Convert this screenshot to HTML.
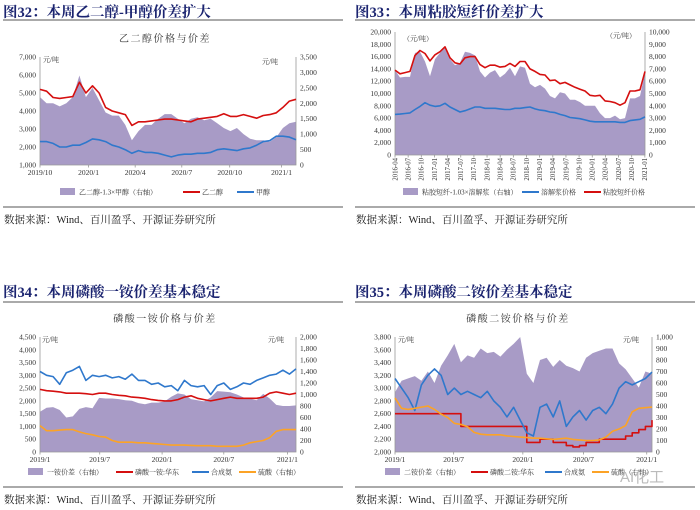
<!DOCTYPE html>
<html><head><meta charset="utf-8">
<style>
html,body{margin:0;padding:0;background:#fff;}
svg{display:block;}
.t{font-family:"Liberation Serif","Noto Serif CJK SC",serif;}
</style></head>
<body>
<svg id="root" width="700" height="510" viewBox="0 0 700 510" xmlns="http://www.w3.org/2000/svg">
<rect width="700" height="510" fill="#fff"/>
</svg>
<script>
// ===== Chart 1 data: ethylene glycol vs methanol (weekly samples, 2019/10 - 2021/1) =====
const c1Ticks = ["2019/10","2020/1","2020/4","2020/7","2020/10","2021/1"];
const c1TickIdx = [0, 7.4, 14.5, 21.6, 28.9, 36.8];
const c1Red = [5200,5100,4750,4700,4750,4800,5600,5000,5400,5000,4200,4000,3900,3800,3200,3400,3400,3450,3500,3550,3550,3500,3450,3400,3550,3600,3650,3700,3850,3700,3700,3800,3700,3600,3750,3800,3900,4200,4550,4650];
const c1Blue = [2300,2300,2200,2000,2000,2100,2100,2250,2450,2400,2300,2100,2000,1850,1650,1800,1700,1700,1650,1550,1450,1550,1600,1600,1650,1650,1700,1850,1900,1850,1800,1900,1950,2100,2300,2350,2600,2600,2550,2400];
const c1Spread = [2200,2000,2000,1900,2000,2200,2900,2200,2500,2100,1700,1600,1600,1300,800,1100,1300,1300,1500,1650,1650,1500,1350,1500,1550,1450,1500,1350,1200,1100,1200,1000,850,800,800,750,900,1200,1350,1400];

// ===== Chart 2 data: viscose staple fiber vs dissolving pulp =====
const c2Ticks = ["2016-04","2016-07","2016-10","2017-01","2017-04","2017-07","2017-10","2018-01","2018-04","2018-07","2018-10","2019-01","2019-04","2019-07","2019-10","2020-01","2020-04","2020-07","2020-10","2021-01"];
const c2Red = [13800,13200,13400,13600,16200,17000,16500,15300,16300,16800,17600,15800,15000,14800,15800,16000,16000,14700,14200,14600,14600,14300,14400,14900,14400,15200,15200,14000,13600,13100,13000,12100,12200,11600,11800,11400,11000,10700,10400,9700,9600,9700,8800,8700,8500,8100,8500,10400,10400,10600,13600];
const c2Blue = [6600,6650,6750,6850,7400,7900,8500,8100,7900,8000,8400,7800,7400,7000,7200,7500,7800,7800,7600,7600,7600,7500,7400,7400,7600,7600,7700,7800,7500,7300,7200,7000,6900,6600,6400,6100,6000,5900,5700,5500,5400,5400,5400,5400,5400,5300,5300,5600,5700,5800,6200];
const c2Spread = [6900,6300,6350,6350,8300,8400,7600,6400,7800,8300,8800,7800,7300,7500,8400,8300,8100,6800,6300,6700,6900,6300,6600,7100,6400,7200,7100,5800,5500,5700,5400,4800,4600,5100,5000,4500,4500,4300,4000,4000,4000,3400,3000,3000,3200,2900,3000,4600,4600,4800,6700];

// ===== Chart 3 data: MAP =====
const c3Ticks = ["2019/1","2019/7","2020/1","2020/7","2021/1"];
const c3TickIdx = [0, 9.1, 18.6, 28.0, 37.7];
const c3Blue = [3150,3000,2950,2650,3100,3200,3350,2800,3000,2950,3000,2900,2950,2850,3050,2800,2800,2650,2700,2550,2600,2400,2800,2600,2550,2600,2250,2600,2700,2450,2550,2700,2650,2800,2900,3000,3050,3200,3050,3250];
const c3Red = [2450,2400,2380,2350,2300,2300,2300,2280,2250,2300,2300,2250,2220,2200,2150,2130,2100,2050,2020,2000,2000,2050,2150,2200,2100,2050,2000,2050,2100,2150,2100,2100,2100,2100,2150,2300,2350,2300,2250,2300];
const c3Orange = [460,370,370,380,390,390,350,320,300,270,260,200,170,170,170,160,160,150,140,130,120,120,120,115,110,110,110,100,100,100,100,120,160,180,200,250,360,390,390,390];
const c3Spread = [700,770,780,730,600,620,750,780,760,940,930,930,920,900,890,850,830,860,860,880,960,1020,1000,920,900,880,950,1060,1050,1040,1000,950,930,900,1010,930,820,800,800,810];

// ===== Chart 4 data: DAP =====
const c4Ticks = ["2019/1","2019/7","2020/1","2020/7","2021/1"];
const c4TickIdx = [0, 8.9, 19.4, 28.6, 38.2];
const c4Blue = [3150,3000,2850,2650,3050,3200,3300,3200,2900,3000,2900,2950,2900,2850,2950,2800,2700,2550,2700,2500,2300,2250,2700,2750,2550,2800,2400,2550,2650,2500,2650,2700,2600,2750,3000,3100,3050,3100,3150,3250];
const c4Red = [2600,2600,2600,2600,2600,2600,2600,2600,2600,2600,2400,2400,2400,2400,2400,2400,2400,2400,2400,2400,2150,2150,2200,2200,2150,2150,2100,2080,2100,2150,2150,2200,2200,2200,2200,2250,2300,2350,2400,2500];
const c4Orange = [470,380,370,380,390,400,370,330,300,250,240,220,170,155,150,150,150,140,135,130,125,120,120,115,110,115,120,110,105,100,100,105,130,180,200,230,350,380,385,390];
const c4Spread = [520,620,640,660,620,700,600,750,840,940,780,840,820,900,860,870,830,890,940,1000,680,600,800,820,740,800,750,730,700,820,860,880,900,900,770,720,640,560,700,680];

const NS = "http://www.w3.org/2000/svg";
const root = document.getElementById('root');
const C_PURPLE = "#a89bc6", C_RED = "#d50f0f", C_BLUE = "#2f78cc", C_ORANGE = "#fca326", NAVY = "#1b2470";

function mk(tag, attrs, parent, text) {
  const e = document.createElementNS(NS, tag);
  for (const k in attrs) e.setAttribute(k, attrs[k]);
  if (text !== undefined) e.textContent = text;
  (parent || root).appendChild(e);
  return e;
}
function fmt(v) { return v.toLocaleString('en-US'); }

function drawChart(cfg) {
  const g = mk('g', {});
  
  
  const {x0, x1, y0, y1} = cfg.box;
  const n = cfg.n;
  const xs = i => x0 + (x1 - x0) * i / (n - 1);
  const yl = v => y1 - (v - cfg.lmin) / (cfg.lmax - cfg.lmin) * (y1 - y0);
  const yr = v => y1 - (v - cfg.rmin) / (cfg.rmax - cfg.rmin) * (y1 - y0);
  // area
  const area = cfg.area;
  let d = `M${xs(0)},${y1}`;
  area.forEach((v, i) => d += ` L${xs(i).toFixed(1)},${yr(v).toFixed(1)}`);
  d += ` L${xs(n - 1)},${y1} Z`;
  const a = mk('path', {d, fill: C_PURPLE, stroke: 'none'}, g);
  
  
  // axes
  const ax = mk('path', {d: `M${x0},${y0} V${y1} H${x1} V${y0}`, fill: 'none', stroke: '#999', 'stroke-width': 0.8}, g);
  
  
  // left ticks
  for (let v = cfg.lmin; v <= cfg.lmax + 1e-6; v += cfg.lstep) {
    const t = mk('text', {x: x0 - 4, y: yl(v) + 2.5, 'font-size': 7.5, 'text-anchor': 'end', fill: '#333', class: 't'}, g, fmt(v));
    
    
  }
  for (let v = cfg.rmin; v <= cfg.rmax + 1e-6; v += cfg.rstep) {
    const t = mk('text', {x: x1 + 4, y: yr(v) + 2.5, 'font-size': 7.5, 'text-anchor': 'start', fill: '#333', class: 't'}, g, fmt(v));
    
    
  }
  // x ticks
  cfg.ticks.forEach((lab, k) => {
    const idx = cfg.tickIdx[k];
    const x = xs(idx);
    mk('line', {x1: x, x2: x, y1: y1, y2: y1 + 2.5, stroke: '#999', 'stroke-width': 0.8}, g);
    let t;
    if (cfg.rotate) {
      t = mk('text', {x: 0, y: 0, 'font-size': 6.8, 'text-anchor': 'end', fill: '#333', class: 't', transform: `translate(${x + 2.3},${y1 + 3}) rotate(-90)`}, g, lab);
    } else {
      t = mk('text', {x, y: y1 + 10, 'font-size': 7.5, 'text-anchor': 'middle', fill: '#333', class: 't'}, g, lab);
    }
    
    
  });
  // lines
  cfg.lines.forEach(L => {
    const sc = L.axis === 'r' ? yr : yl;
    let p = '';
    L.data.forEach((v, i) => {
      if (i === 0) p += `M${xs(i).toFixed(1)},${sc(v).toFixed(1)}`;
      else if (L.step) p += ` H${xs(i).toFixed(1)} V${sc(v).toFixed(1)}`;
      else p += ` L${xs(i).toFixed(1)},${sc(v).toFixed(1)}`;
    });
    const e = mk('path', {d: p, fill: 'none', stroke: L.color, 'stroke-width': 1.6, 'stroke-linejoin': 'round'}, g);
    
    
  });
  // unit labels
  cfg.units.forEach(u => {
    const t = mk('text', {x: u[0], y: u[1], 'font-size': 7, fill: '#333', class: 't'}, g, u[2]);
    
    
  });
  // legend
  cfg.legend.forEach(L => {
    if (L.type === 'area') mk('rect', {x: L.x, y: L.y - 4, width: 15, height: 7, fill: C_PURPLE}, g);
    else mk('line', {x1: L.x, x2: L.x + 17, y1: L.y, y2: L.y, stroke: L.color, 'stroke-width': 2}, g);
    const t = mk('text', {x: L.x + 19, y: L.y + 2.5, 'font-size': 7, fill: '#333', class: 't'}, g, L.label);
    
    
  });
}

function frame(name, x, title, titleY, topLine, botLine, sub, subX, subY) {
  const g = mk('g', {});
  
  
  const t = mk('text', {x: x, y: titleY, 'font-size': 14.5, 'font-weight': 'bold', fill: NAVY, class: 't'}, g, title);
  
  
  mk('line', {x1: x, x2: x + 340, y1: topLine, y2: topLine, stroke: '#555', 'stroke-width': 1}, g);
  mk('line', {x1: x, x2: x + 340, y1: botLine, y2: botLine, stroke: '#555', 'stroke-width': 1}, g);
  if (sub) {
    const s = mk('text', {x: subX, y: subY, 'font-size': 10, 'text-anchor': 'middle', fill: '#333', class: 't', 'letter-spacing': 1.5}, g, sub);
    
    
  }
  const src = mk('text', {x: x + 1, y: botLine + 16, 'font-size': 10.5, fill: '#222', class: 't'}, g, '数据来源：Wind、百川盈孚、开源证券研究所');
  
  
}

frame('figure-32', 3, '图32：本周乙二醇-甲醇价差扩大', 17, 20, 207, '乙二醇价格与价差', 165, 42);
frame('figure-33', 355, '图33：本周粘胶短纤价差扩大', 17, 20, 207, null);
frame('figure-34', 3, '图34：本周磷酸一铵价差基本稳定', 297, 302, 487, '磷酸一铵价格与价差', 165, 322);
frame('figure-35', 355, '图35：本周磷酸二铵价差基本稳定', 297, 302, 487, '磷酸二铵价格与价差', 518, 322);

drawChart({name: 'chart-eg-methanol', box: {x0: 40, x1: 296, y0: 57, y1: 165}, n: c1Red.length,
  lmin: 1000, lmax: 7000, lstep: 1000, rmin: 0, rmax: 3500, rstep: 500,
  ticks: c1Ticks, tickIdx: c1TickIdx, area: c1Spread,
  lines: [{name: 'line-eg', data: c1Red, color: C_RED}, {name: 'line-methanol', data: c1Blue, color: C_BLUE}],
  units: [[43, 62, '元/吨'], [262, 64, '元/吨']],
  legend: [{type: 'area', x: 60, y: 192, label: '乙二醇-1.3×甲醇（右轴）'}, {x: 183, y: 192, color: C_RED, label: '乙二醇'}, {x: 237, y: 192, color: C_BLUE, label: '甲醇'}]});

drawChart({name: 'chart-viscose', box: {x0: 395, x1: 645, y0: 32, y1: 155}, n: c2Red.length,
  lmin: 0, lmax: 20000, lstep: 2000, rmin: 0, rmax: 10000, rstep: 1000,
  ticks: c2Ticks, tickIdx: c2Ticks.map((_, i) => i * 2.63), rotate: true, area: c2Spread,
  lines: [{name: 'line-pulp', data: c2Blue, color: C_BLUE}, {name: 'line-viscose', data: c2Red, color: C_RED}],
  units: [[403, 41, '（元/吨）'], [606, 38, '（元/吨）']],
  legend: [{type: 'area', x: 403, y: 192, label: '粘胶短纤-1.03×溶解浆（右轴）'}, {x: 522, y: 192, color: C_BLUE, label: '溶解浆价格'}, {x: 584, y: 192, color: C_RED, label: '粘胶短纤价格'}]});

drawChart({name: 'chart-map', box: {x0: 40, x1: 296, y0: 337, y1: 452}, n: c3Red.length,
  lmin: 0, lmax: 4500, lstep: 500, rmin: 0, rmax: 2000, rstep: 200,
  ticks: c3Ticks, tickIdx: c3TickIdx, area: c3Spread,
  lines: [{name: 'line-map-price', data: c3Red, color: C_RED}, {name: 'line-ammonia', data: c3Blue, color: C_BLUE}, {name: 'line-sulfuric-acid', data: c3Orange, color: C_ORANGE, axis: 'r'}],
  units: [[42, 342, '元/吨'], [268, 342, '元/吨']],
  legend: [{type: 'area', x: 28, y: 472, label: '一铵价差（右轴）'}, {x: 116, y: 472, color: C_RED, label: '磷酸一铵:华东'}, {x: 192, y: 472, color: C_BLUE, label: '合成氨'}, {x: 239, y: 472, color: C_ORANGE, label: '硫酸（右轴）'}]});

drawChart({name: 'chart-dap', box: {x0: 395, x1: 652, y0: 337, y1: 452}, n: c4Red.length,
  lmin: 2000, lmax: 3800, lstep: 200, rmin: 0, rmax: 1000, rstep: 100,
  ticks: c4Ticks, tickIdx: c4TickIdx, area: c4Spread,
  lines: [{name: 'line-dap-price', data: c4Red, color: C_RED, step: true}, {name: 'line-ammonia', data: c4Blue, color: C_BLUE}, {name: 'line-sulfuric-acid', data: c4Orange, color: C_ORANGE, axis: 'r'}],
  units: [[398, 342, '元/吨'], [623, 342, '元/吨']],
  legend: [{type: 'area', x: 385, y: 472, label: '二铵价差（右轴）'}, {x: 471, y: 472, color: C_RED, label: '磷酸二铵:华东'}, {x: 545, y: 472, color: C_BLUE, label: '合成氨'}, {x: 592, y: 472, color: C_ORANGE, label: '硫酸（右轴）'}]});

// watermark
const wm = mk('text', {x: 620, y: 482, 'font-size': 15, fill: '#bbb', 'font-family': '"Liberation Sans","Noto Sans CJK SC",sans-serif'}, root, 'AI化工');


</script>
</body></html>
